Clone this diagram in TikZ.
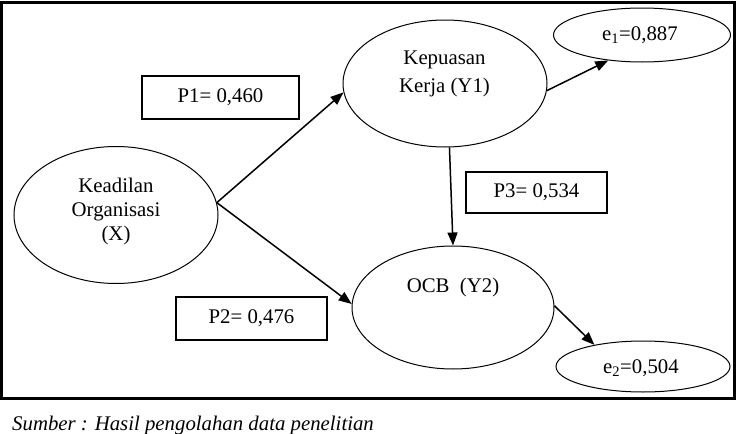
\documentclass[tikz,border=0pt]{standalone}
\usepackage{fontspec}
\setmainfont{Liberation Serif}
\usetikzlibrary{arrows.meta,shapes.geometric}
\begin{document}
\begin{tikzpicture}[x=1pt,y=-1pt,
  lat/.style={draw,ellipse,line width=1pt,inner sep=0pt},
  txt/.style={font=\fontsize{20.8}{24}\selectfont,align=center,inner sep=0pt},
  coef/.style={draw,line width=1.3pt,inner sep=0pt,font=\fontsize{20.8}{24}\selectfont},
  path/.style={line width=1.5pt,-{Triangle[length=13pt,width=10pt]}}]
\useasboundingbox (0,0) rectangle (740,434);
\node[draw,line width=3pt,minimum width=733pt,minimum height=396pt,inner sep=0pt] (frame) at (368.25,200) {};
% latent ellipses
\node[lat,minimum width=204pt,minimum height=137pt] (X) at (116,215) {};
\node[lat,minimum width=204pt,minimum height=127pt] (Y1) at (445,83.5) {};
\node[lat,minimum width=202pt,minimum height=123pt] (Y2) at (453,307.5) {};
\node[lat,minimum width=177pt,minimum height=54pt] (e1) at (642,35) {};
\node[lat,minimum width=174pt,minimum height=51pt] (e2) at (643,366.5) {};
% texts
\node[txt] (tX) at (116,211) {Keadilan\\Organisasi\\(X)};
\node[txt] (tY1) at (444.5,74) {Kepuasan\\[4pt]Kerja (Y1)};
\node[txt] (tY2) at (453,287) {OCB\ \ (Y2)};
\node[txt] (te1) at (640,35) {e\textsubscript{1}=0,887};
\node[txt] (te2) at (641,368) {e\textsubscript{2}=0,504};
% coefficient boxes
\node[coef,minimum width=157pt,minimum height=43pt] (p1) at (220.5,97.5) {P1= 0,460};
\node[coef,minimum width=151pt,minimum height=43pt] (p2) at (251.5,318.5) {P2= 0,476};
\node[coef,minimum width=141pt,minimum height=41pt] (p3) at (536.5,192.5) {P3= 0,534};
% paths
\draw[path] (X.7) -- (Y1.185);
\draw[path] (X.7) -- (Y2.178);
\draw[path] (Y1.274) -- (Y2.north);
\draw[path] (Y1.-4) -- (e1.217);
\draw[path] (Y2.1) -- (e2.156);
% caption
\node[anchor=base west,inner sep=0pt,font=\fontsize{20.8}{24}\selectfont\itshape] (cap) at (12,430) {Sumber : Hasil pengolahan data penelitian};
\end{tikzpicture}
\end{document}
